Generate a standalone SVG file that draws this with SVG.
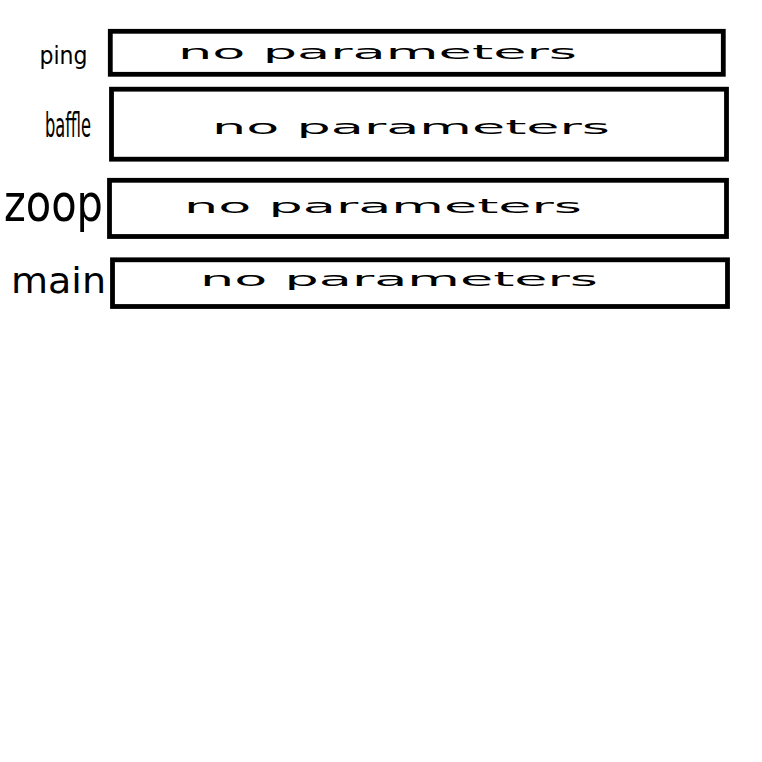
<svg xmlns="http://www.w3.org/2000/svg" width="762" height="762" viewBox="0 0 762 762">
<style>
.box{fill:#fff;stroke:#000;stroke-width:4.8}
.lbl{font-family:"DejaVu Sans Condensed","DejaVu Sans",sans-serif;fill:#000}
.np{font-family:"DejaVu Sans",sans-serif;font-size:19px;fill:#000}
</style>
<rect width="762" height="762" fill="#fff"/>
<g id="connectors"></g>
<g id="ping">
<rect class="box" x="110.3" y="31.3" width="613" height="43"/>
<text class="lbl" x="39.5" y="63.5" font-size="25" textLength="48" lengthAdjust="spacingAndGlyphs">ping</text>
<text class="np" x="178" y="59" textLength="399" lengthAdjust="spacingAndGlyphs">no parameters</text>
</g>
<g id="baffle">
<rect class="box" x="111.5" y="89.2" width="615" height="70"/>
<text class="lbl" x="45" y="136.7" font-size="33" textLength="46" lengthAdjust="spacingAndGlyphs">baffle</text>
<text class="np" x="212" y="134.3" textLength="398" lengthAdjust="spacingAndGlyphs">no parameters</text>
</g>
<g id="zoop">
<rect class="box" x="109.5" y="180.3" width="617" height="56.2"/>
<text class="lbl" x="4" y="221" font-size="52" textLength="99" lengthAdjust="spacingAndGlyphs">zoop</text>
<text class="np" x="184" y="212.7" textLength="398" lengthAdjust="spacingAndGlyphs">no parameters</text>
</g>
<g id="main">
<rect class="box" x="112.5" y="259.8" width="615" height="46.7"/>
<text class="lbl" x="11" y="292.7" font-size="35" textLength="95" lengthAdjust="spacingAndGlyphs">main</text>
<text class="np" x="200" y="285.7" textLength="398" lengthAdjust="spacingAndGlyphs">no parameters</text>
</g>
</svg>
